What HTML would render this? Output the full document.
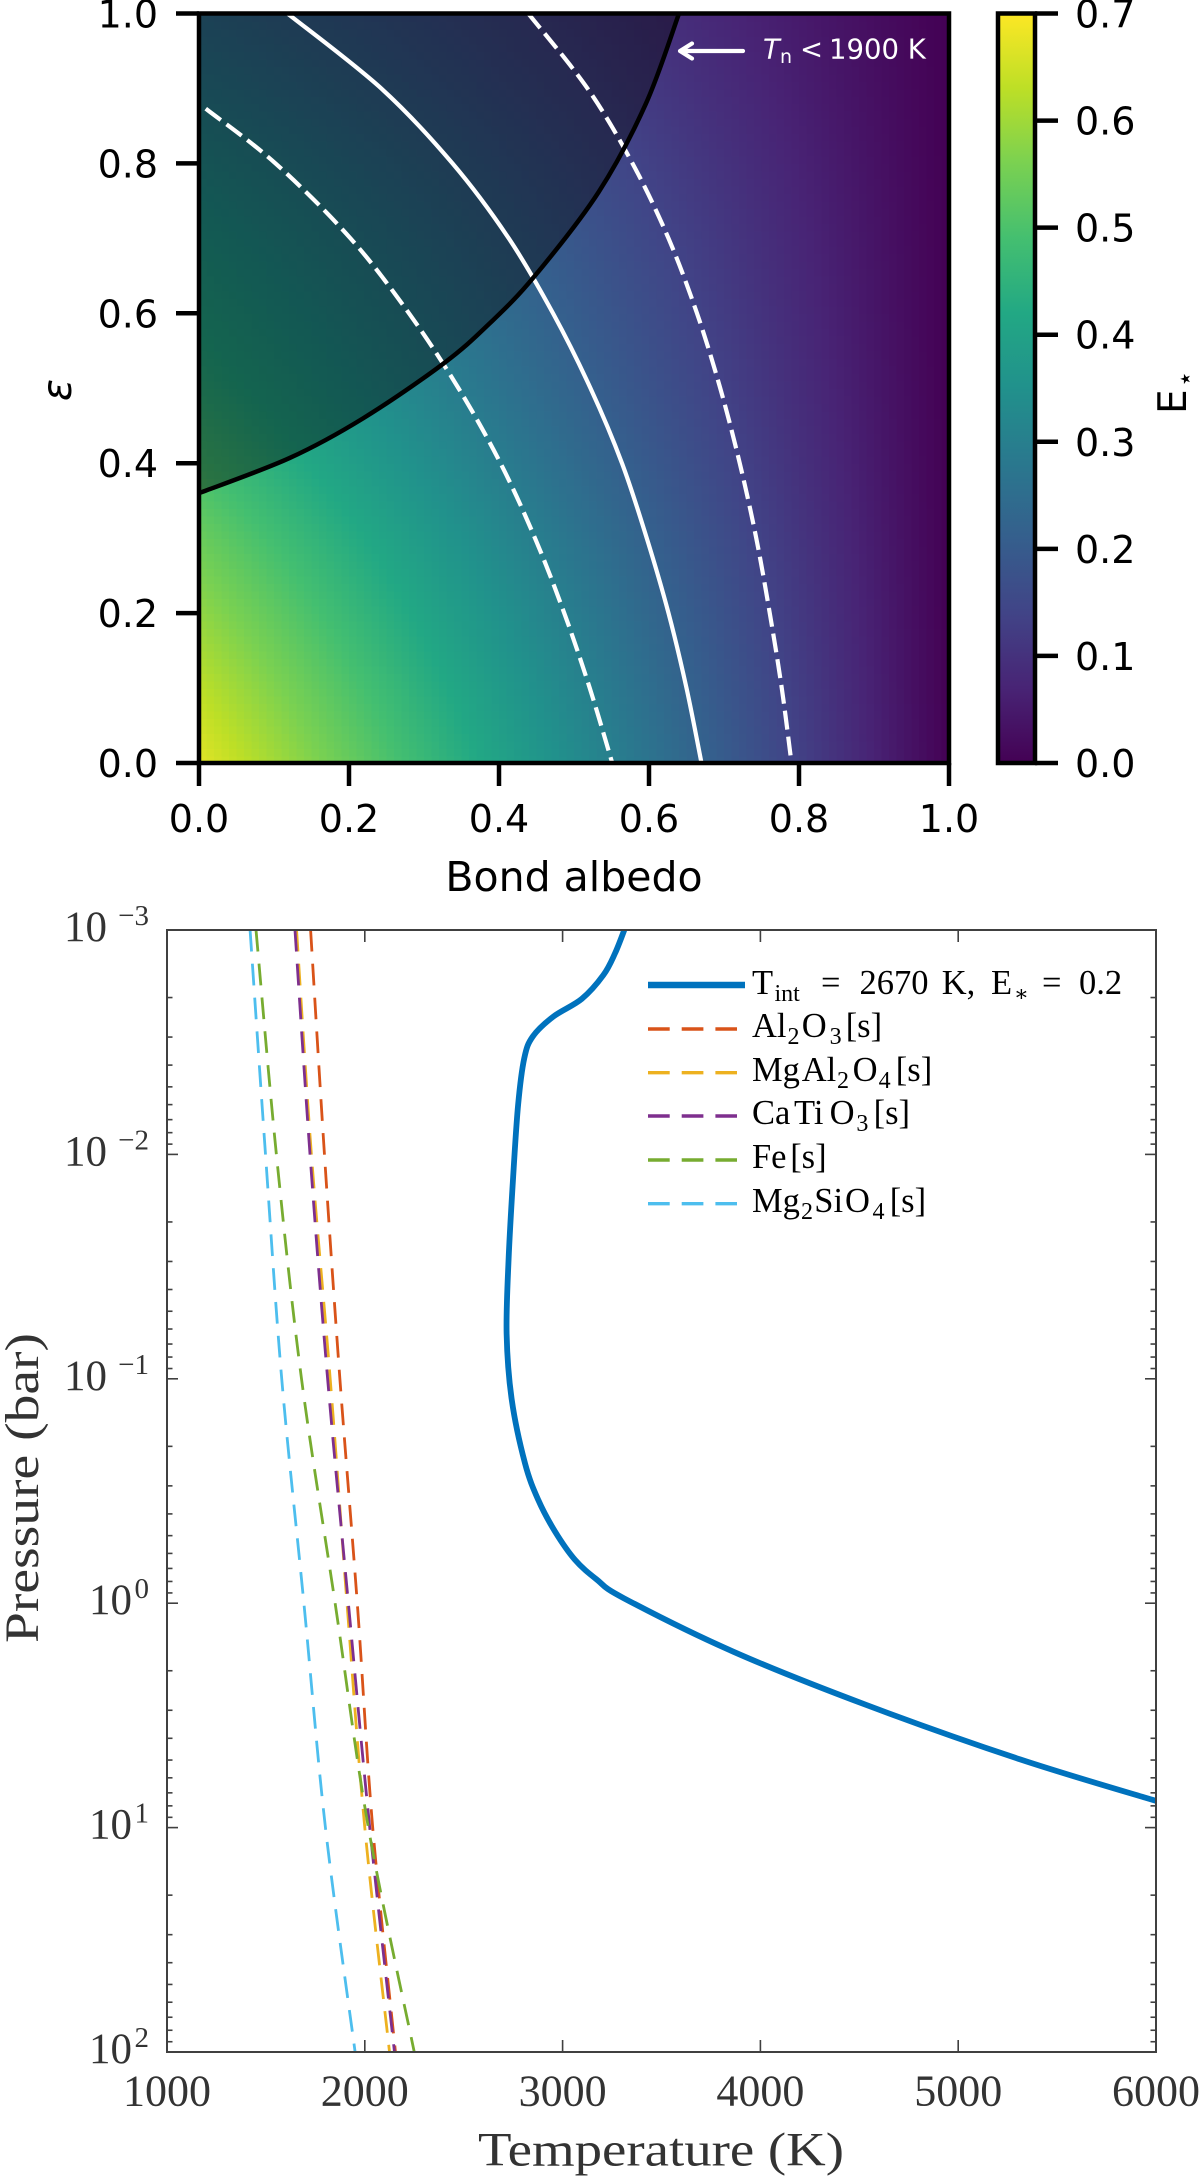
<!DOCTYPE html>
<html lang="en">
<head>
<meta charset="utf-8">
<title>Emissivity map and temperature-pressure profile</title>
<style>
html,body{margin:0;padding:0;background:#fff;}
svg{display:block;}
.dv{font-family:"DejaVu Sans","Liberation Sans",sans-serif;}
.cm{font-family:"Liberation Serif","DejaVu Serif",serif;}
</style>
</head>
<body>
<svg id="fig" xmlns="http://www.w3.org/2000/svg" width="1200" height="2179" viewBox="0 0 1200 2179">
<defs>
<clipPath id="clip-top"><rect x="199" y="13.5" width="750" height="749.5"/></clipPath>
<clipPath id="clip-bot"><rect x="167" y="930" width="989" height="1122"/></clipPath>
<linearGradient id="cbar-grad" x1="0" y1="1" x2="0" y2="0"></linearGradient>
</defs>
<g id="heatmap"></g>
<g id="top-marks" clip-path="url(#clip-top)"></g>
<g id="top-axes"></g>

<g>
<path d="M743 51H682M692 43.5L680 51L692 58.5" fill="none" stroke="#fff" stroke-width="4.2" stroke-linecap="round" stroke-linejoin="round"/>
<text class="dv" y="58.3" font-size="27.5" fill="#fff"><tspan x="763" font-style="italic">T</tspan><tspan x="780" y="63" font-size="19">n</tspan><tspan x="800" y="58.3">&lt;</tspan><tspan x="829">1900 K</tspan></text>
</g>

<text class="dv" x="574" y="891" font-size="41" text-anchor="middle">Bond albedo</text>
<text class="dv" transform="translate(71,390) rotate(-90)" font-size="41" font-style="italic" text-anchor="middle">ε</text>
<text class="dv" transform="translate(1186,414) rotate(-90)" font-size="39">E<tspan dx="2" dy="8" font-size="27">⋆</tspan></text>

<g id="bot-marks" clip-path="url(#clip-bot)"></g>
<g id="bot-axes"></g>

<text class="cm" x="661" y="2165.5" font-size="48" fill="#333" text-anchor="middle" textLength="366" lengthAdjust="spacingAndGlyphs">Temperature (K)</text>
<text class="cm" transform="translate(38,1488) rotate(-90)" font-size="48" fill="#333" text-anchor="middle" textLength="310" lengthAdjust="spacingAndGlyphs">Pressure (bar)</text>

<g>
<line x1="648" x2="745" y1="985" y2="985" stroke="#0072BD" stroke-width="6.5"/>
<line x1="648" x2="737" y1="1029" y2="1029" stroke="#D95319" stroke-width="3.4" stroke-dasharray="21.7 12"/>
<line x1="648" x2="737" y1="1072.7" y2="1072.7" stroke="#EDB120" stroke-width="3.4" stroke-dasharray="21.7 12"/>
<line x1="648" x2="737" y1="1116" y2="1116" stroke="#7E2F8E" stroke-width="3.4" stroke-dasharray="21.7 12"/>
<line x1="648" x2="737" y1="1160" y2="1160" stroke="#77AC30" stroke-width="3.4" stroke-dasharray="21.7 12"/>
<line x1="648" x2="737" y1="1203.7" y2="1203.7" stroke="#4DBEEE" stroke-width="3.4" stroke-dasharray="21.7 12"/>
<text class="cm" font-size="34.5" y="994"><tspan x="752">T</tspan><tspan x="774.5" y="1001" font-size="24">int</tspan><tspan x="821" y="994">=</tspan><tspan x="859.5">2670</tspan><tspan x="941.7">K,</tspan><tspan x="991">E</tspan><tspan x="1014" y="1001" font-size="22">∗</tspan><tspan x="1042" y="994">=</tspan><tspan x="1079">0.2</tspan></text>
<text class="cm" font-size="34.5" y="1037"><tspan x="752">Al</tspan><tspan x="787.5" y="1044" font-size="24">2</tspan><tspan x="801.7" y="1037">O</tspan><tspan x="829.6" y="1044" font-size="24">3</tspan><tspan x="845.7" y="1037">[s]</tspan></text>
<text class="cm" font-size="34.5" y="1081"><tspan x="752">Mg</tspan><tspan x="801.7">Al</tspan><tspan x="837" y="1088" font-size="24">2</tspan><tspan x="852.6" y="1081">O</tspan><tspan x="878.6" y="1088" font-size="24">4</tspan><tspan x="895.8" y="1081">[s]</tspan></text>
<text class="cm" font-size="34.5" y="1124"><tspan x="752">Ca</tspan><tspan x="794">Ti</tspan><tspan x="829.6">O</tspan><tspan x="856.4" y="1131" font-size="24">3</tspan><tspan x="873.6" y="1124">[s]</tspan></text>
<text class="cm" font-size="34.5" y="1168"><tspan x="752">Fe</tspan><tspan x="790.2">[s]</tspan></text>
<text class="cm" font-size="34.5" y="1212"><tspan x="752">Mg</tspan><tspan x="801" y="1219" font-size="24">2</tspan><tspan x="814.3" y="1212">Si</tspan><tspan x="845">O</tspan><tspan x="872.5" y="1219" font-size="24">4</tspan><tspan x="889.7" y="1212">[s]</tspan></text>
</g>
</svg>

<script>
/* ---- top panel data ---- */
const albedoGrid = [0,0.1,0.2,0.3,0.4,0.5,0.6,0.7,0.8,0.9,1];
const emissivityGrid = [0,0.1,0.2,0.3,0.4,0.5,0.6,0.7,0.8,0.9,1];
const heatRow00 = [0.670,0.603,0.536,0.469,0.402,0.335,0.268,0.201,0.134,0.067,0];
const heatRow01 = [0.630,0.567,0.504,0.441,0.378,0.315,0.252,0.189,0.126,0.063,0];
const heatRow02 = [0.585,0.527,0.468,0.410,0.351,0.293,0.234,0.176,0.117,0.059,0];
const heatRow03 = [0.540,0.486,0.432,0.378,0.324,0.270,0.216,0.162,0.108,0.054,0];
const heatRow04 = [0.490,0.441,0.392,0.343,0.294,0.245,0.196,0.147,0.098,0.049,0];
const heatRow05 = [0.445,0.401,0.356,0.312,0.267,0.223,0.178,0.134,0.089,0.045,0];
const heatRow06 = [0.410,0.369,0.328,0.287,0.246,0.205,0.164,0.123,0.082,0.041,0];
const heatRow07 = [0.375,0.338,0.300,0.263,0.225,0.188,0.150,0.113,0.075,0.038,0];
const heatRow08 = [0.335,0.302,0.268,0.235,0.201,0.168,0.134,0.101,0.067,0.034,0];
const heatRow09 = [0.290,0.261,0.232,0.203,0.174,0.145,0.116,0.087,0.058,0.029,0];
const heatRow10 = [0.250,0.225,0.200,0.175,0.150,0.125,0.100,0.075,0.050,0.025,0];
const heatValues = [heatRow00,heatRow01,heatRow02,heatRow03,heatRow04,heatRow05,heatRow06,heatRow07,heatRow08,heatRow09,heatRow10];

const solidAlbedo = [0.118,0.243,0.338,0.413,0.472,0.522,0.564,0.597,0.626,0.650,0.670];
const solidEps    = [1.0,0.9,0.8,0.7,0.6,0.5,0.4,0.3,0.2,0.1,0.0];
const lowDashAlbedo = [0.009,0.102,0.202,0.280,0.346,0.402,0.448,0.487,0.521,0.551];
const lowDashEps    = [0.873,0.8,0.7,0.6,0.5,0.4,0.3,0.2,0.1,0.0];
const highDashAlbedo = [0.439,0.518,0.578,0.626,0.664,0.695,0.721,0.743,0.761,0.777,0.790];
const highDashEps    = [1.0,0.9,0.8,0.7,0.6,0.5,0.4,0.3,0.2,0.1,0.0];
const boundaryAlbedo = [0,0.121,0.219,0.326,0.387,0.447,0.533,0.596,0.640];
const boundaryEps    = [0.360,0.407,0.460,0.533,0.586,0.649,0.762,0.880,1.000];

const topXTicks = ['0.0','0.2','0.4','0.6','0.8','1.0'];
const topYTicks = ['0.0','0.2','0.4','0.6','0.8','1.0'];
const colorbarTicks = ['0.0','0.1','0.2','0.3','0.4','0.5','0.6','0.7'];
const colorMax = 0.7;
const viridisStops = ['#440154','#482475','#414487','#355f8d','#2a788e','#21918c','#22a884','#44bf70','#7ad151','#bddf26','#fde725'];

/* ---- bottom panel data ---- */
const profileTemp = [3312,3265,3206,3097,2953,2849,2806,2775,2750,2727,2717,2743,2810,2877,2962,3063,3172,3310,3863,4537,5313,6000];
const profileLogP = [-3,-2.896,-2.799,-2.693,-2.614,-2.525,-2.428,-2.22,-1.9,-1.533,-1.2,-0.906,-0.623,-0.46,-0.319,-0.193,-0.106,-0.022,0.216,0.454,0.696,0.881];
const condensateLogP = [-3,-2,-1,0,1,2];
const al2o3Temp   = [1726,1796,1874,1962,2040,2155];
const mgal2o4Temp = [1655,1730,1825,1910,2000,2125];
const catio3Temp  = [1647,1723,1812,1917,2025,2150];
const feTemp      = [1450,1553,1680,1850,2018,2250];
const mg2sio4Temp = [1420,1498,1580,1692,1801,1951];
const botXTicks = [1000,2000,3000,4000,5000,6000];
const botYExponents = [-3,-2,-1,0,1,2];
const minorMultipliers = [2,3,4,5,6,7,8,9];

/* ---- axis functions ---- */
const xA = a => 199 + a * 750;
const yE = e => 763 - e * 749.5;
const yC = v => 763 - v / colorMax * 749.5;
const xT = t => 167 + (t - 1000) / 5000 * 989;
const yP = lp => 930 + (lp + 3) * 224.4;

const NS = 'http://www.w3.org/2000/svg';
function make(tag, attrs, parent, text) {
  const el = document.createElementNS(NS, tag);
  for (const k in attrs) el.setAttribute(k, attrs[k]);
  if (text !== undefined) el.textContent = text;
  parent.appendChild(el);
  return el;
}
function hexRgb(h) { return [parseInt(h.slice(1,3),16),parseInt(h.slice(3,5),16),parseInt(h.slice(5,7),16)]; }
function viridis(f) {
  f = Math.max(0, Math.min(1, f));
  const p = f * (viridisStops.length - 1), i = Math.min(Math.floor(p), viridisStops.length - 2), t = p - i;
  const a = hexRgb(viridisStops[i]), b = hexRgb(viridisStops[i + 1]);
  return 'rgb(' + a.map((c, n) => Math.round(c + (b[n] - c) * t)).join(',') + ')';
}
function smooth(px) {
  let d = 'M' + px[0][0].toFixed(2) + ' ' + px[0][1].toFixed(2);
  for (let i = 0; i < px.length - 1; i++) {
    const p0 = px[Math.max(i - 1, 0)], p1 = px[i], p2 = px[i + 1], p3 = px[Math.min(i + 2, px.length - 1)];
    const c1 = [p1[0] + (p2[0] - p0[0]) / 6, p1[1] + (p2[1] - p0[1]) / 6];
    const c2 = [p2[0] - (p3[0] - p1[0]) / 6, p2[1] - (p3[1] - p1[1]) / 6];
    d += 'C' + c1[0].toFixed(2) + ' ' + c1[1].toFixed(2) + ' ' + c2[0].toFixed(2) + ' ' + c2[1].toFixed(2) + ' ' + p2[0].toFixed(2) + ' ' + p2[1].toFixed(2);
  }
  return d;
}
function pts(xs, ys, fx, fy) { return xs.map((v, i) => [fx(v), fy(ys[i])]); }

/* ---- heatmap ---- */
const heatGroup = document.getElementById('heatmap');
const SUB = 10;
for (let r = 0; r < emissivityGrid.length - 1; r++) {
  for (let c = 0; c < albedoGrid.length - 1; c++) {
    const a0 = albedoGrid[c], a1 = albedoGrid[c + 1], e0 = emissivityGrid[r], e1 = emissivityGrid[r + 1];
    for (let j = 0; j < SUB; j++) {
      for (let i = 0; i < SUB; i++) {
        const u = (i + 0.5) / SUB, w = (j + 0.5) / SUB;
        const v = heatValues[r][c] * (1 - u) * (1 - w) + heatValues[r][c + 1] * u * (1 - w) + heatValues[r + 1][c] * (1 - u) * w + heatValues[r + 1][c + 1] * u * w;
        const x0 = xA(a0 + (a1 - a0) * i / SUB), x1 = xA(a0 + (a1 - a0) * (i + 1) / SUB);
        const y1 = yE(e0 + (e1 - e0) * j / SUB), y0 = yE(e0 + (e1 - e0) * (j + 1) / SUB);
        const cell = make('rect', {x: x0.toFixed(2), y: y0.toFixed(2), width: (x1 - x0 + 0.8).toFixed(2), height: (y1 - y0 + 0.8).toFixed(2), fill: viridis(v / colorMax), 'shape-rendering': 'crispEdges'}, heatGroup);
        
        
      }
    }
  }
}

/* ---- shaded region and contours ---- */
const topMarks = document.getElementById('top-marks');
const boundaryPx = pts(boundaryAlbedo, boundaryEps, xA, yE);
const shade = make('path', {d: smooth(boundaryPx) + 'L' + xA(0) + ' ' + yE(1) + 'Z', fill: '#000', 'fill-opacity': 0.4}, topMarks);



const lowDash = make('path', {d: smooth(pts(lowDashAlbedo, lowDashEps, xA, yE)), fill: 'none', stroke: '#fff', 'stroke-width': 4.2, 'stroke-dasharray': '19 7'}, topMarks);


const solidLine = make('path', {d: smooth(pts(solidAlbedo, solidEps, xA, yE)), fill: 'none', stroke: '#fff', 'stroke-width': 4.2}, topMarks);


const highDash = make('path', {d: smooth(pts(highDashAlbedo, highDashEps, xA, yE)), fill: 'none', stroke: '#fff', 'stroke-width': 4.2, 'stroke-dasharray': '19 7'}, topMarks);


const boundaryLine = make('path', {d: smooth(boundaryPx), fill: 'none', stroke: '#000', 'stroke-width': 4.5}, topMarks);



/* ---- top axes ---- */
const topAxes = document.getElementById('top-axes');
const frame = make('rect', {x: 199, y: 13.5, width: 750, height: 749.5, fill: 'none', stroke: '#000', 'stroke-width': 4.5}, topAxes);


topXTicks.forEach(label => {
  const x = xA(parseFloat(label));
  const tick = make('line', {x1: x, x2: x, y1: 763, y2: 786, stroke: '#000', 'stroke-width': 4.5}, topAxes);
  
  
  const t = make('text', {x: x, y: 832, 'font-size': 38, 'text-anchor': 'middle', class: 'dv'}, topAxes, label);
  
  
});
topYTicks.forEach(label => {
  const y = yE(parseFloat(label));
  const tick = make('line', {x1: 176, x2: 199, y1: y, y2: y, stroke: '#000', 'stroke-width': 4.5}, topAxes);
  
  
  const t = make('text', {x: 158, y: y + 14, 'font-size': 38, 'text-anchor': 'end', class: 'dv'}, topAxes, label);
  
  
});

/* ---- colorbar ---- */
const grad = document.getElementById('cbar-grad');
viridisStops.forEach((c, i) => {
  make('stop', {offset: i / (viridisStops.length - 1), 'stop-color': c}, grad);
});
const cbar = make('rect', {x: 998, y: 13.5, width: 37, height: 749.5, fill: 'url(#cbar-grad)', stroke: '#000', 'stroke-width': 4.5}, topAxes);


colorbarTicks.forEach(label => {
  const y = yC(parseFloat(label));
  const tick = make('line', {x1: 1035, x2: 1058, y1: y, y2: y, stroke: '#000', 'stroke-width': 4.5}, topAxes);
  
  
  const t = make('text', {x: 1075, y: y + 14, 'font-size': 38, class: 'dv'}, topAxes, label);
  
  
});

/* ---- bottom panel series ---- */
const botMarks = document.getElementById('bot-marks');
function drawCondensate(temps, color, name) {
  const px = temps.map((t, i) => [xT(t), yP(condensateLogP[i])]);
  const line = make('path', {d: smooth(px), fill: 'none', stroke: color, 'stroke-width': 2.8, 'stroke-dasharray': '21.7 12.2'}, botMarks);
  
  
}
drawCondensate(al2o3Temp, '#D95319', 'curve-al2o3');
drawCondensate(mgal2o4Temp, '#EDB120', 'curve-mgal2o4');
drawCondensate(catio3Temp, '#7E2F8E', 'curve-catio3');
drawCondensate(feTemp, '#77AC30', 'curve-fe');
drawCondensate(mg2sio4Temp, '#4DBEEE', 'curve-mg2sio4');
const profile = make('path', {d: smooth(pts(profileTemp, profileLogP, xT, yP)), fill: 'none', stroke: '#0072BD', 'stroke-width': 5.8, 'stroke-linejoin': 'round'}, botMarks);



/* ---- bottom axes ---- */
const botAxes = document.getElementById('bot-axes');
const axisGray = '#404040';
const botFrame = make('rect', {x: 167, y: 930, width: 989, height: 1122, fill: 'none', stroke: axisGray, 'stroke-width': 2}, botAxes);


botXTicks.forEach(v => {
  const x = xT(v);
  const tb = make('line', {x1: x, x2: x, y1: 2052, y2: 2040, stroke: axisGray, 'stroke-width': 1.6}, botAxes);
  
  
  const tt = make('line', {x1: x, x2: x, y1: 930, y2: 942, stroke: axisGray, 'stroke-width': 1.6}, botAxes);
  
  
  const t = make('text', {x: x, y: 2105.6, 'font-size': 44, fill: '#333', 'text-anchor': 'middle', class: 'cm'}, botAxes, String(v));
  
  
});
botYExponents.forEach(exp => {
  const y = yP(exp);
  const tl = make('line', {x1: 167, x2: 178, y1: y, y2: y, stroke: axisGray, 'stroke-width': 1.6}, botAxes);
  
  
  const tr = make('line', {x1: 1156, x2: 1145, y1: y, y2: y, stroke: axisGray, 'stroke-width': 1.6}, botAxes);
  
  
  const neg = exp < 0;
  const baseX = neg ? 107 : 132;
  const label = make('text', {x: baseX, y: y + 11, 'font-size': 43, fill: '#333', 'text-anchor': 'end', class: 'cm'}, botAxes, '10');
  
  
  const sup = make('text', {x: 149, y: y - 5, 'font-size': 29, fill: '#333', 'text-anchor': 'end', class: 'cm'}, botAxes, (neg ? '\u2212' : '') + Math.abs(exp));
  
  
  if (exp < botYExponents[botYExponents.length - 1]) {
    minorMultipliers.forEach(m => {
      const my = yP(exp + Math.log10(m));
      const ml = make('line', {x1: 167, x2: 172.5, y1: my, y2: my, stroke: axisGray, 'stroke-width': 1.6}, botAxes);
      
      
      const mr = make('line', {x1: 1156, x2: 1150.5, y1: my, y2: my, stroke: axisGray, 'stroke-width': 1.6}, botAxes);
      
      
    });
  }
});
</script>
</body>
</html>
